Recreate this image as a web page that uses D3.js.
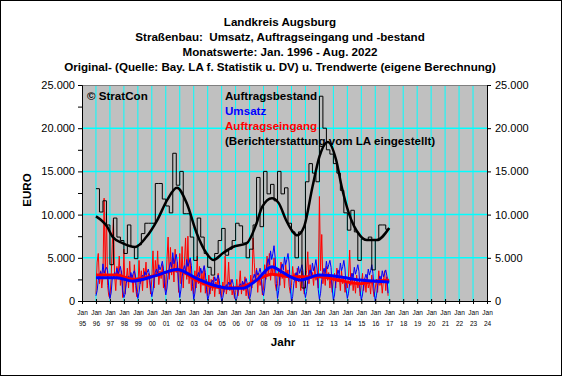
<!DOCTYPE html>
<html>
<head>
<meta charset="utf-8">
<script src="https://cdn.jsdelivr.net/npm/d3@7"></script>
<style>
body { margin: 0; background: #fff; }
svg { display: block; font-family: Arial, "Liberation Sans", sans-serif; }
text { white-space: pre; }
</style>
</head>
<body>
<svg id="chart" width="562" height="376"></svg>
<script>
var titleLines = [
  "Landkreis Augsburg",
  "Straßenbau:  Umsatz, Auftragseingang und -bestand",
  "Monatswerte: Jan. 1996 - Aug. 2022",
  "Original- (Quelle: Bay. LA f. Statistik u. DV) u. Trendwerte (eigene Berechnung)"
]
var legendLines = ["Auftragsbestand", "Umsatz", "Auftragseingang", "(Berichterstattung vom LA eingestellt)"]
var legendColors = ["#000", "#0000ff", "#ff0000", "#000"]

var firstYear = 1996
var axisYears = d3.range(1995, 2025) // Jan 95 .. Jan 24
var yTicks = [0, 2500, 5000, 7500, 10000, 12500, 15000, 17500, 20000, 22500, 25000]

// Umsatz, monthly 1996-2016
var umsatz = [
  600, 1200, 2400, 3000, 3400, 2900, 4300, 3200, 3600, 3900, 3500, 1500,
  300, 900, 2600, 2800, 3300, 3000, 3800, 3100, 3500, 4000, 3200, 1200,
  400, 800, 2000, 2600, 2900, 2500, 3300, 2700, 3200, 3500, 2900, 1100,
  300, 1000, 2200, 2700, 3000, 2600, 3400, 3000, 3300, 3700, 3000, 1400,
  500, 1200, 2600, 3300, 3700, 3200, 4200, 3600, 4000, 4600, 3800, 1600,
  700, 1500, 3000, 3800, 4500, 3900, 5600, 4300, 4800, 5400, 4400, 2000,
  400, 1300, 2800, 3600, 4100, 3500, 4800, 4000, 4400, 5000, 4100, 1700,
  200, 900, 2200, 2800, 3300, 2800, 3800, 3200, 3500, 4100, 3300, 1300,
  100, 600, 1500, 2000, 2400, 2000, 2800, 2300, 2600, 3000, 2400, 900,
  0, 400, 1200, 1600, 1900, 1500, 2200, 1900, 2100, 2500, 1900, 700,
  100, 300, 1100, 1700, 2000, 1600, 2300, 1900, 2200, 2600, 2000, 800,
  200, 800, 2000, 2600, 3100, 2600, 3600, 3000, 3300, 3800, 3100, 1200,
  600, 1500, 3300, 4300, 4900, 4200, 5800, 4800, 5500, 6400, 5000, 2000,
  300, 1200, 2900, 3700, 4300, 3600, 5100, 4200, 4800, 5500, 4400, 1600,
  0, 500, 2000, 2800, 3300, 2700, 4000, 3200, 3700, 4200, 3300, 1200,
  400, 1100, 2400, 3100, 3600, 3000, 4400, 3500, 4000, 4800, 3700, 1300,
  200, 900, 2500, 3300, 3800, 3200, 4600, 3700, 4200, 4700, 3900, 1500,
  100, 700, 2300, 3000, 3600, 3000, 4400, 3500, 4000, 4700, 3700, 1300,
  300, 900, 2100, 2700, 3200, 2700, 3900, 3100, 3600, 4200, 3400, 1200,
  100, 700, 1900, 2600, 3100, 2600, 3700, 3000, 3500, 4200, 3200, 1100,
  0, 600, 1800, 2400, 2900, 2400, 3500, 2800, 3200, 3600, 2900, 900
]

// Auftragseingang, monthly 1996-2016
var eingang = [
  800, 4500, 5500, 2000, 3500, 1500, 2800, 11900, 3000, 10300, 1800, 600,
  300, 2500, 6500, 9400, 3000, 1200, 4000, 2500, 5200, 1800, 3500, 400,
  6000, 800, 2500, 3800, 1500, 4600, 2200, 3000, 1000, 4200, 1800, 500,
  1500, 4700, 2000, 3500, 1200, 3800, 2600, 4500, 1500, 3200, 2400, 800,
  2500, 5800, 1500, 4700, 2800, 5800, 1900, 3500, 2600, 4200, 1500, 3000,
  1200, 4800, 7400, 2500, 6200, 3000, 5000, 2200, 6000, 3300, 4500, 1000,
  5500, 2000, 6300, 1500, 4500, 7300, 2500, 7500, 2000, 4800, 1200, 3000,
  800, 3500, 1500, 5200, 2000, 4000, 1000, 3300, 1800, 4000, 900, 2500,
  600, 3000, 800, 2500, 1200, 2800, 500, 2200, 1500, 3200, 800, 1800,
  400, 2200, 1000, 5200, 800, 1800, 4500, 1200, 2500, 700, 1500, 300,
  1000, 2500, 600, 1800, 3500, 800, 2200, 1200, 2800, 600, 2000, 300,
  800, 3000, 1500, 7300, 4500, 2200, 3800, 1000, 3200, 1800, 2500, 700,
  1500, 4200, 2500, 5200, 3000, 5500, 2400, 4000, 3200, 5000, 2000, 1200,
  2000, 3800, 1800, 4500, 2600, 3500, 1500, 4200, 2800, 3600, 1700, 900,
  1800, 4000, 2500, 3200, 1500, 3800, 2200, 3000, 1200, 3500, 2000, 800,
  2500, 3500, 5700, 2000, 4200, 2600, 3300, 1800, 4000, 2400, 3000, 1500,
  12100, 3500, 7700, 2000, 3500, 1800, 4000, 2400, 3300, 1500, 2800, 1000,
  2500, 3200, 1500, 3800, 2200, 3000, 1200, 3500, 2000, 2800, 1000, 2200,
  1500, 2800, 5900, 1800, 3200, 1200, 2500, 900, 3000, 1500, 2200, 600,
  1800, 3200, 1200, 2600, 1000, 2800, 1500, 2200, 800, 3000, 1400, 500,
  1500, 2500, 1000, 3500, 1800, 2600, 900, 2400, 3500, 1200, 2800, 600
]

// Auftragsbestand, quarterly 1996-2016
var bestand = [
  13000, 10300, 11600, 8800,
  4200, 9600, 7400, 7000,
  5500, 8800, 6300, 4900,
  6500, 7800, 9000, 9000,
  9000, 13600, 13600, 11800,
  11000, 10200, 17100, 13400,
  15000, 10100, 10100, 7400,
  4700, 9600, 7400, 5500,
  3900, 3000, 5500, 7000,
  8400, 5300, 6000, 7000,
  9000, 8700, 6700, 5000,
  6000, 8800, 14300, 8600,
  15000, 12400, 13500, 11600,
  15000, 12400, 13100, 9000,
  8000, 5000, 8000, 1500,
  13800, 15900, 14800, 13800,
  23700, 20000, 17500, 17000,
  15900, 14800, 12800, 10200,
  8200, 10500, 8000, 4700,
  7200, 7000, 7400, 3600,
  7000, 8800, 8800, 8300
]

// trend values [year, value]
var trendBestand = [
  [1996.0, 9800], [1996.8, 8600], [1997.2, 7400], [1997.9, 6700], [1998.8, 6250],
  [1999.6, 7400], [2000.4, 9400], [2001.1, 11700], [2001.8, 13100], [2002.5, 11300],
  [2003.2, 7900], [2003.9, 5550], [2004.4, 4750], [2005.1, 5550], [2005.8, 6250],
  [2006.8, 6700], [2007.5, 9000], [2007.9, 10900], [2008.6, 11900], [2009.1, 11300],
  [2009.6, 9400], [2010.1, 8000], [2010.4, 7600], [2010.9, 8600], [2011.5, 13200],
  [2012.0, 16700], [2012.6, 18400], [2013.2, 16300], [2013.6, 13200], [2014.1, 10200],
  [2014.9, 7600], [2015.4, 7050], [2016.1, 7050], [2017.0, 8450]
]
var trendUmsatz = [
  [1996.0, 2700], [1997.5, 2700], [1998.6, 2300], [2000.4, 3000], [2001.8, 3660],
  [2003.2, 2620], [2004.4, 1850], [2005.6, 1470], [2006.5, 1470], [2007.5, 2420],
  [2008.6, 3970], [2009.1, 3580], [2009.9, 2810], [2010.6, 2420], [2012.0, 3000],
  [2013.4, 2810], [2014.9, 2420], [2017.0, 2200]
]
var trendEingang = [
  [1996.0, 3000], [1997.5, 3000], [1998.6, 2500], [2000.4, 3000], [2001.8, 3580],
  [2003.2, 2400], [2004.4, 1660], [2005.6, 1500], [2006.5, 1660], [2007.5, 2420],
  [2008.6, 3100], [2009.1, 3000], [2009.9, 2800], [2011.0, 2800], [2012.0, 2800],
  [2013.4, 2400], [2014.9, 2000], [2016.0, 2300], [2017.0, 2400]
]

var svg = d3.select('#chart')
var W = 562, H = 376
var plot = {left: 82, right: 487, top: 85, bottom: 301}
var boldSize = 11.6

var deLocale = d3.formatLocale({decimal: ',', thousands: '.', grouping: [3], currency: ['', ' €']})
var fmt = deLocale.format(',')

var x = d3.scaleLinear().domain([1995, 2024]).range([plot.left, plot.right])
var y = d3.scaleLinear().domain([0, 25000]).range([plot.bottom, plot.top])

svg.append('rect').attr('x', 0.5).attr('y', 0.5).attr('width', W - 1).attr('height', H - 1)
  .attr('fill', '#fff').attr('stroke', '#000')

// titles
svg.selectAll('text.title').data(titleLines).join('text')
  .attr('class', 'title')
  .attr('x', 280).attr('y', (d, i) => 26 + i * 15)
  .attr('text-anchor', 'middle')
  .attr('font-size', boldSize).attr('font-weight', 'bold')
  .text(d => d)

// plot background
svg.append('rect')
  .attr('x', plot.left).attr('y', plot.top)
  .attr('width', plot.right - plot.left).attr('height', plot.bottom - plot.top)
  .attr('fill', '#c0c0c0')

// grid
svg.append('g').selectAll('line').data(axisYears.slice(1, -1)).join('line')
  .attr('x1', d => x(d)).attr('x2', d => x(d))
  .attr('y1', plot.top).attr('y2', plot.bottom)
  .attr('stroke', '#00ffff').attr('stroke-width', 1)
svg.append('g').selectAll('line').data([5000, 10000, 15000, 20000]).join('line')
  .attr('x1', plot.left).attr('x2', plot.right)
  .attr('y1', d => y(d)).attr('y2', d => y(d))
  .attr('stroke', '#00ffff').attr('stroke-width', 1.5)

svg.append('line').attr('x1', plot.left).attr('x2', plot.right)
  .attr('y1', plot.top + 0.5).attr('y2', plot.top + 0.5).attr('stroke', '#808080')

// series
var monthLine = d3.line().x((d, i) => x(firstYear + i / 12)).y(d => y(d))
var bestandPts = bestand.map((v, i) => [firstYear + i / 4, v])
bestandPts.push([2017, bestand[bestand.length - 1]])
var stepLine = d3.line().x(d => x(d[0])).y(d => y(d[1])).curve(d3.curveStepAfter)
var trendLine = d3.line().x(d => x(d[0])).y(d => y(d[1])).curve(d3.curveMonotoneX)

var g = svg.append('g').attr('fill', 'none').attr('stroke-linejoin', 'round')
g.append('path').attr('d', monthLine(eingang)).attr('stroke', '#ff0000').attr('stroke-width', 1)
g.append('path').attr('d', monthLine(umsatz)).attr('stroke', '#0000ff').attr('stroke-width', 1)
g.append('path').attr('d', stepLine(bestandPts)).attr('stroke', '#000').attr('stroke-width', 1)
g.append('path').attr('d', trendLine(trendEingang)).attr('stroke', '#ff0000').attr('stroke-width', 3)
g.append('path').attr('d', trendLine(trendUmsatz)).attr('stroke', '#0000ff').attr('stroke-width', 3)
g.append('path').attr('d', trendLine(trendBestand)).attr('stroke', '#000').attr('stroke-width', 2.5)

// axes
var yLeft = d3.axisLeft(y).tickValues(yTicks).tickSize(4).tickPadding(3)
  .tickFormat(d => d % 5000 === 0 ? fmt(d) : '')
var yRight = d3.axisRight(y).tickValues(yTicks.filter(d => d % 5000 === 0)).tickSize(4).tickPadding(4)
  .tickFormat(fmt)
var xAxis = d3.axisBottom(x).tickValues(axisYears).tickSize(3).tickFormat('')

function styleAxis(sel) {
  sel.select('.domain').attr('stroke', '#000')
  sel.selectAll('.tick line').attr('stroke', '#000')
  sel.selectAll('.tick text').attr('fill', '#000').attr('font-size', 11)
    .attr('font-family', 'Arial, "Liberation Sans", sans-serif')
}
svg.append('g').attr('transform', `translate(${plot.left},0)`).call(yLeft).call(styleAxis)
svg.append('g').attr('transform', `translate(${plot.right},0)`).call(yRight).call(styleAxis)
var xg = svg.append('g').attr('transform', `translate(0,${plot.bottom})`).call(xAxis).call(styleAxis)
xg.selectAll('.tick line').attr('y1', -2)
xg.selectAll('.tick').append('text')
  .attr('y', 14).attr('text-anchor', 'middle').attr('font-size', 6.5).attr('fill', '#000')
  .text('Jan')
xg.selectAll('.tick').append('text')
  .attr('y', 25).attr('text-anchor', 'middle').attr('font-size', 6.5).attr('fill', '#000')
  .text(d => String(d).slice(2))

// axis titles
svg.append('text').attr('x', 283).attr('y', 346).attr('text-anchor', 'middle')
  .attr('font-size', boldSize).attr('font-weight', 'bold').text('Jahr')
svg.append('text').attr('transform', 'translate(31,190) rotate(-90)').attr('text-anchor', 'middle')
  .attr('font-size', boldSize).attr('font-weight', 'bold').text('EURO')

// legend text
svg.append('text').attr('x', 87).attr('y', 100).attr('font-size', boldSize).attr('font-weight', 'bold')
  .text('© StratCon')
svg.selectAll('text.leg').data(legendLines).join('text')
  .attr('class', 'leg')
  .attr('x', 225).attr('y', (d, i) => 100 + i * 15)
  .attr('font-size', boldSize).attr('font-weight', 'bold')
  .attr('fill', (d, i) => legendColors[i])
  .text(d => d)
</script>
</body>
</html>
